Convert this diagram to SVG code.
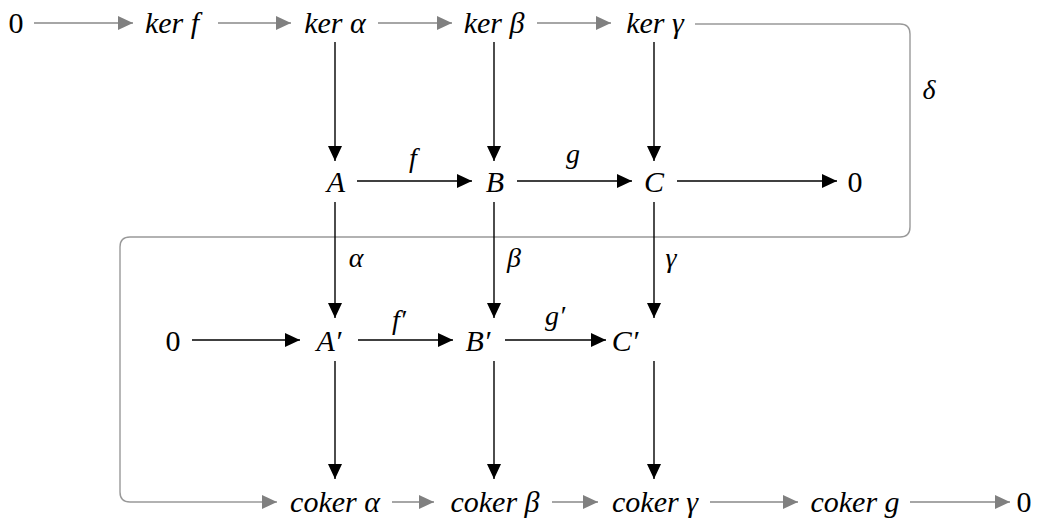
<svg xmlns="http://www.w3.org/2000/svg" width="1043" height="518" viewBox="0 0 1043 518">
<defs>
<marker id="ab" markerUnits="userSpaceOnUse" markerWidth="15" markerHeight="14" refX="15" refY="7" orient="auto"><path d="M0,0 L15,7 L0,14 z" fill="#000"/></marker>
<marker id="ag" markerUnits="userSpaceOnUse" markerWidth="15" markerHeight="14" refX="15" refY="7" orient="auto"><path d="M0,0 L15,7 L0,14 z" fill="#808080"/></marker>
</defs>
<style>
.b{stroke:#000;stroke-width:1.4;fill:none;marker-end:url(#ab)}
.g{stroke:#888;stroke-width:1.4;fill:none;marker-end:url(#ag)}
.loop{stroke:#999;stroke-width:1.4;fill:none}
</style>
<g id="connectors">
<line class="g" x1="34" y1="23" x2="133" y2="23"/>
<line class="g" x1="218" y1="23" x2="291" y2="23"/>
<line class="g" x1="378" y1="23" x2="452" y2="23"/>
<line class="g" x1="537" y1="23" x2="611" y2="23"/>
<path class="loop" d="M695,24 H900 Q910,24 910,34 V227 Q910,237 900,237 H130 Q120,237 120,247 V492 Q120,502 130,502 H277" marker-end="url(#ag)"/>
<line class="b" x1="335" y1="42" x2="335" y2="161"/>
<line class="b" x1="494" y1="42" x2="494" y2="161"/>
<line class="b" x1="654" y1="42" x2="654" y2="161"/>
<line class="b" x1="357" y1="181" x2="472" y2="181"/>
<line class="b" x1="517" y1="181" x2="632" y2="181"/>
<line class="b" x1="677" y1="181" x2="837" y2="181"/>
<line class="b" x1="335" y1="202" x2="335" y2="318"/>
<line class="b" x1="494" y1="202" x2="494" y2="318"/>
<line class="b" x1="654" y1="202" x2="654" y2="318"/>
<line class="b" x1="192" y1="340" x2="300" y2="340"/>
<line class="b" x1="358" y1="340" x2="453" y2="340"/>
<line class="b" x1="505" y1="340" x2="606" y2="340"/>
<line class="b" x1="335" y1="361" x2="335" y2="479"/>
<line class="b" x1="494" y1="361" x2="494" y2="479"/>
<line class="b" x1="654" y1="361" x2="654" y2="479"/>
<line class="g" x1="392" y1="502" x2="434" y2="502"/>
<line class="g" x1="552" y1="502" x2="598" y2="502"/>
<line class="g" x1="710" y1="502" x2="798" y2="502"/>
<line class="g" x1="910" y1="502" x2="1010" y2="502"/>
<g id="labels" font-family="Liberation Serif" font-size="28" font-style="italic" text-anchor="middle">
<text x="413" y="167" style="font-family:'Liberation Serif',serif !important">f</text>
<text x="573" y="163" style="font-family:'Liberation Serif',serif !important">g</text>
<text x="356" y="267" style="font-family:'Liberation Serif',serif !important">α</text>
<text x="514" y="267" style="font-family:'Liberation Serif',serif !important">β</text>
<text x="671" y="267" style="font-family:'Liberation Serif',serif !important">γ</text>
<text x="399" y="329" style="font-family:'Liberation Serif',serif !important">f′</text>
<text x="555" y="325" style="font-family:'Liberation Serif',serif !important">g′</text>
<text x="929" y="99" style="font-family:'Liberation Serif',serif !important">δ</text>
</g>
</g>
<g id="nodes" font-family="Liberation Serif" font-size="30" text-anchor="middle">
<g id="n0a"><text x="16" y="33" style="font-family:'Liberation Serif',serif !important">0</text></g>
<g id="kerf"><text x="172" y="33" font-style="italic" style="font-family:'Liberation Serif',serif !important">ker f</text></g>
<g id="keralpha"><text x="335" y="33" font-style="italic" style="font-family:'Liberation Serif',serif !important">ker α</text></g>
<g id="kerbeta"><text x="494" y="33" font-style="italic" style="font-family:'Liberation Serif',serif !important">ker β</text></g>
<g id="kergamma"><text x="655" y="33" font-style="italic" style="font-family:'Liberation Serif',serif !important">ker γ</text></g>
<g id="A"><text x="336" y="192" font-style="italic" style="font-family:'Liberation Serif',serif !important">A</text></g>
<g id="B"><text x="495" y="192" font-style="italic" style="font-family:'Liberation Serif',serif !important">B</text></g>
<g id="C"><text x="654" y="192" font-style="italic" style="font-family:'Liberation Serif',serif !important">C</text></g>
<g id="n0b"><text x="855" y="192" style="font-family:'Liberation Serif',serif !important">0</text></g>
<g id="n0c"><text x="173" y="351" style="font-family:'Liberation Serif',serif !important">0</text></g>
<g id="Ap"><text x="329" y="351" font-style="italic" style="font-family:'Liberation Serif',serif !important">A′</text></g>
<g id="Bp"><text x="478" y="351" font-style="italic" style="font-family:'Liberation Serif',serif !important">B′</text></g>
<g id="Cp"><text x="625" y="351" font-style="italic" style="font-family:'Liberation Serif',serif !important">C′</text></g>
<g id="cokeralpha"><text x="335" y="512" font-style="italic" style="font-family:'Liberation Serif',serif !important">coker α</text></g>
<g id="cokerbeta"><text x="495" y="512" font-style="italic" style="font-family:'Liberation Serif',serif !important">coker β</text></g>
<g id="cokergamma"><text x="655" y="512" font-style="italic" style="font-family:'Liberation Serif',serif !important">coker γ</text></g>
<g id="cokerg"><text x="855" y="512" font-style="italic" style="font-family:'Liberation Serif',serif !important">coker g</text></g>
<g id="n0d"><text x="1024" y="512" style="font-family:'Liberation Serif',serif !important">0</text></g>
</g>
</svg>
